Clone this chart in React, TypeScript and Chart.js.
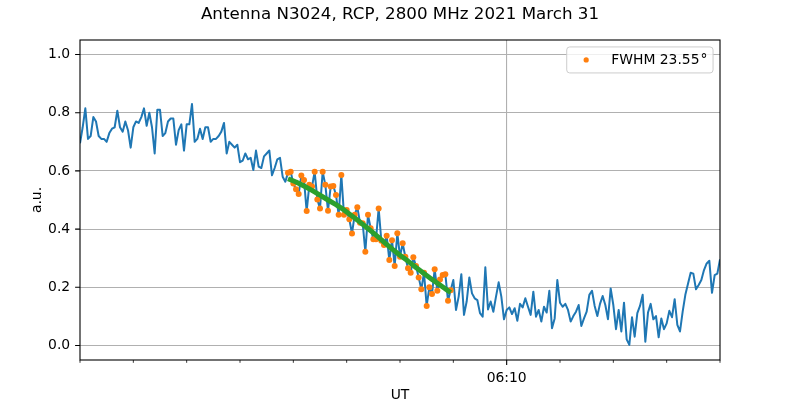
import React, { useEffect, useRef } from "react";
import { Chart, registerables } from "chart.js";

Chart.register(...registerables);

const FONT = "'DejaVu Sans', sans-serif";
const TITLE = "Antenna N3024, RCP, 2800 MHz 2021 March 31";
const X_LABEL = "UT";
const Y_LABEL = "a.u.";
const LEGEND_LABEL = "FWHM 23.55";
const LEGEND_DEGREE = "°";

// time axis: minutes after 06:00
const START_MIN = 2; // 06:02:00
const SAMPLE_SEC = 3;
const X_MIN = 2;
const X_MAX = 14;
const X_MINOR_TICKS = [2, 3, 4, 5, 6, 7, 8, 9, 10, 11, 12, 13, 14];
const X_MAJOR_TICKS = [10];
const X_MAJOR_LABELS = ["06:10"];
const Y_MIN = -0.05;
const Y_MAX = 1.05;
const Y_TICKS = [0, 0.2, 0.4, 0.6, 0.8, 1.0];

// flux before the fitted interval
const fluxBefore = [
  0.695, 0.75, 0.815, 0.71, 0.72, 0.785, 0.77, 0.72, 0.71, 0.71,
  0.70, 0.73, 0.745, 0.75, 0.807, 0.75, 0.735, 0.77, 0.74, 0.68,
  0.75, 0.77, 0.765, 0.785, 0.815, 0.755, 0.80, 0.75, 0.66, 0.81,
  0.81, 0.72, 0.73, 0.77, 0.78, 0.78, 0.69, 0.74, 0.76, 0.67,
  0.76, 0.76, 0.83, 0.70, 0.71, 0.745, 0.71, 0.75, 0.75, 0.70,
  0.71, 0.71, 0.72, 0.735, 0.765, 0.66, 0.70, 0.69, 0.68, 0.69,
  0.63, 0.635, 0.66, 0.64, 0.645, 0.603, 0.67, 0.615, 0.61, 0.65,
  0.66, 0.67, 0.585, 0.61, 0.64, 0.645, 0.58, 0.563,
];

// flux inside the fitted interval (orange points)
const fluxFit = [
  0.594, 0.597, 0.557, 0.537, 0.521, 0.584, 0.569, 0.462, 0.552, 0.546,
  0.597, 0.502, 0.471, 0.597, 0.552, 0.463, 0.546, 0.548, 0.517, 0.449,
  0.586, 0.449, 0.466, 0.434, 0.385, 0.449, 0.475, 0.422, 0.420, 0.322,
  0.449, 0.403, 0.365, 0.365, 0.471, 0.360, 0.345, 0.377, 0.294, 0.362,
  0.273, 0.386, 0.305, 0.351, 0.305, 0.265, 0.250, 0.303, 0.273, 0.234,
  0.193, 0.250, 0.136, 0.200, 0.177, 0.262, 0.188, 0.227, 0.242, 0.245,
  0.154, 0.190,
];

// flux after the fitted interval
const fluxAfter = [
  0.225, 0.122, 0.168, 0.245, 0.105, 0.151, 0.234, 0.179, 0.162, 0.156,
  0.111, 0.099, 0.269, 0.124, 0.151, 0.116, 0.168, 0.217, 0.168, 0.090,
  0.122, 0.131, 0.108, 0.128, 0.085, 0.143, 0.131, 0.162, 0.133, 0.105,
  0.185, 0.099, 0.122, 0.082, 0.133, 0.113, 0.188, 0.059, 0.093, 0.225,
  0.147, 0.133, 0.143, 0.122, 0.082, 0.101, 0.116, 0.139, 0.067, 0.093,
  0.116, 0.174, 0.188, 0.136, 0.101, 0.143, 0.170, 0.139, 0.090, 0.196,
  0.139, 0.056, 0.122, 0.048, 0.147, 0.021, 0.002, 0.097, 0.030, 0.111,
  0.136, 0.174, 0.013, 0.113, 0.143, 0.090, 0.101, 0.028, 0.093, 0.056,
  0.076, 0.119, 0.097, 0.159, 0.071, 0.048, 0.116, 0.174, 0.212, 0.250,
  0.247, 0.193, 0.208, 0.225, 0.259, 0.282, 0.291, 0.181, 0.242, 0.247,
  0.296,
];

// fitted curve (green), sample offsets within the fitted interval
const fitOffsets = [0, 3, 6, 9, 12, 15, 18, 21, 24, 27, 30, 33, 36, 39, 42, 45, 48, 51, 54, 57, 60, 61];
const fitValues = [
  0.573, 0.562, 0.548, 0.533, 0.517, 0.500, 0.484, 0.466, 0.445, 0.424, 0.402,
  0.379, 0.355, 0.332, 0.310, 0.290, 0.268, 0.247, 0.227, 0.208, 0.188, 0.182,
];

const BLUE = "#1f77b4";
const ORANGE = "#ff7f0e";
const GREEN = "#2ca02c";
const GRID = "#b0b0b0";

const mplPlugin = {
  id: "mplDecor",
  afterDraw(chart: any) {
    const { ctx, chartArea, width } = chart;
    const { left, right, top, bottom } = chartArea;
    const xs = chart.scales.x;
    const ys = chart.scales.y;
    ctx.save();
    // figure title (centred on the figure)
    ctx.fillStyle = "#000";
    ctx.font = `16.7px ${FONT}`;
    ctx.textAlign = "center";
    ctx.textBaseline = "middle";
    ctx.fillText(TITLE, width / 2, 15);

    // ticks
    ctx.strokeStyle = "#000";
    ctx.lineWidth = 1.1;
    ctx.beginPath();
    for (const v of Y_TICKS) {
      const p = ys.getPixelForValue(v);
      ctx.moveTo(left - 4.9, p);
      ctx.lineTo(left, p);
    }
    ctx.stroke();
    ctx.lineWidth = 0.8;
    ctx.beginPath();
    for (const v of X_MINOR_TICKS) {
      if (X_MAJOR_TICKS.includes(v)) continue;
      const p = xs.getPixelForValue(v);
      ctx.moveTo(p, bottom);
      ctx.lineTo(p, bottom + 2.8);
    }
    ctx.stroke();
    ctx.lineWidth = 1.1;
    ctx.beginPath();
    for (const v of X_MAJOR_TICKS) {
      const p = xs.getPixelForValue(v);
      ctx.moveTo(p, bottom);
      ctx.lineTo(p, bottom + 4.9);
    }
    ctx.stroke();
    // frame
    ctx.strokeRect(left, top, right - left, bottom - top);

    // legend
    const fs = 13.9;
    ctx.font = `${fs}px ${FONT}`;
    const textW = ctx.measureText(LEGEND_LABEL).width;
    const degW = ctx.measureText(LEGEND_DEGREE).width;
    const pad = 0.4 * fs;
    const handle = 2.0 * fs;
    const gap = 0.8 * fs;
    const boxW = pad + handle + gap + textW + 1 + degW + pad;
    const boxH = 26;
    const bx = right - 0.5 * fs - boxW;
    const by = top + 0.5 * fs;
    const r = 3;
    ctx.beginPath();
    ctx.moveTo(bx + r, by);
    ctx.lineTo(bx + boxW - r, by);
    ctx.arcTo(bx + boxW, by, bx + boxW, by + r, r);
    ctx.lineTo(bx + boxW, by + boxH - r);
    ctx.arcTo(bx + boxW, by + boxH, bx + boxW - r, by + boxH, r);
    ctx.lineTo(bx + r, by + boxH);
    ctx.arcTo(bx, by + boxH, bx, by + boxH - r, r);
    ctx.lineTo(bx, by + r);
    ctx.arcTo(bx, by, bx + r, by, r);
    ctx.closePath();
    ctx.fillStyle = "rgba(255,255,255,0.8)";
    ctx.fill();
    ctx.strokeStyle = "#cccccc";
    ctx.lineWidth = 1;
    ctx.stroke();
    const cy = by + boxH / 2;
    ctx.fillStyle = ORANGE;
    ctx.beginPath();
    ctx.arc(bx + pad + handle / 2, cy, 2.6, 0, Math.PI * 2);
    ctx.fill();
    ctx.fillStyle = "#000";
    ctx.textBaseline = "middle";
    ctx.textAlign = "left";
    const tx = bx + pad + handle + gap;
    ctx.fillText(LEGEND_LABEL, tx, cy);
    ctx.fillText(LEGEND_DEGREE, tx + textW + 1, cy);
    ctx.restore();
  },
};

export default function App() {
  const ref = useRef<HTMLCanvasElement>(null);

  useEffect(() => {
    const flux = [...fluxBefore, ...fluxFit, ...fluxAfter];
    const t = (i: number) => START_MIN + (i * SAMPLE_SEC) / 60;
    const fitStart = fluxBefore.length;
    const blue = flux.map((v, i) => ({ x: t(i), y: v }));
    const orange = fluxFit.map((v, k) => ({ x: t(fitStart + k), y: v }));
    const green = fitOffsets.map((k, j) => ({ x: t(fitStart + k), y: fitValues[j] }));

    const chart = new Chart(ref.current as HTMLCanvasElement, {
      type: "line",
      data: {
        datasets: [
          {
            label: "fit",
            data: green,
            borderColor: GREEN,
            borderWidth: 5,
            pointRadius: 0,
            order: 0,
            borderJoinStyle: "round",
            tension: 0,
          },
          {
            label: LEGEND_LABEL + LEGEND_DEGREE,
            data: orange,
            showLine: false,
            pointRadius: 3,
            pointBackgroundColor: ORANGE,
            pointBorderWidth: 0,
            order: 1,
          },
          {
            label: "flux",
            data: blue,
            borderColor: BLUE,
            borderWidth: 2,
            pointRadius: 0,
            order: 2,
            borderJoinStyle: "round",
            tension: 0,
          },
        ],
      },
      options: {
        animation: false,
        responsive: false,
        events: [],
        layout: { padding: { left: 0, right: 80, top: 40, bottom: 0 } },
        plugins: {
          legend: { display: false },
          tooltip: { enabled: false },
          title: { display: false },
        },
        scales: {
          x: {
            type: "linear",
            min: X_MIN,
            max: X_MAX,
            afterBuildTicks: (s: any) => {
              s.ticks = X_MINOR_TICKS.map((v) => ({ value: v }));
            },
            afterFit: (s: any) => {
              s.height = 40;
            },
            grid: {
              color: (c: any) =>
                c.tick && X_MAJOR_TICKS.includes(c.tick.value) ? GRID : "rgba(0,0,0,0)",
              lineWidth: 1.1,
              tickLength: 4.9,
              tickColor: "rgba(0,0,0,0)",
            },
            border: { display: false },
            ticks: {
              autoSkip: false,
              maxRotation: 0,
              padding: 4.9,
              color: "#000",
              font: { family: FONT, size: 13.9 },
              callback: (v: any) => {
                const idx = X_MAJOR_TICKS.indexOf(Number(v));
                return idx >= 0 ? X_MAJOR_LABELS[idx] : "";
              },
            },
            title: {
              display: true,
              text: X_LABEL,
              color: "#000",
              font: { family: FONT, size: 13.9, lineHeight: 1 },
              padding: { top: 0, bottom: -2 },
            },
          },
          y: {
            type: "linear",
            min: Y_MIN,
            max: Y_MAX,
            afterBuildTicks: (s: any) => {
              s.ticks = Y_TICKS.map((v) => ({ value: v }));
            },
            afterFit: (s: any) => {
              s.width = 80;
            },
            grid: {
              color: GRID,
              lineWidth: 1.1,
              tickLength: 4.9,
              tickColor: "rgba(0,0,0,0)",
            },
            border: { display: false },
            ticks: {
              padding: 4.9,
              color: "#000",
              font: { family: FONT, size: 13.9 },
              callback: (v: any) => Number(v).toFixed(1),
            },
            title: {
              display: true,
              text: Y_LABEL,
              color: "#000",
              font: { family: FONT, size: 13.9, lineHeight: 1 },
              padding: { top: 30, bottom: 0 },
            },
          },
        },
      } as any,
      plugins: [mplPlugin],
    });
    return () => chart.destroy();
  }, []);

  return (
    <div style={{ position: "absolute", left: 0, top: 0, width: 800, height: 400, background: "#fff" }}>
      <canvas ref={ref} width={800} height={400} style={{ display: "block", width: 800, height: 400 }} />
    </div>
  );
}
